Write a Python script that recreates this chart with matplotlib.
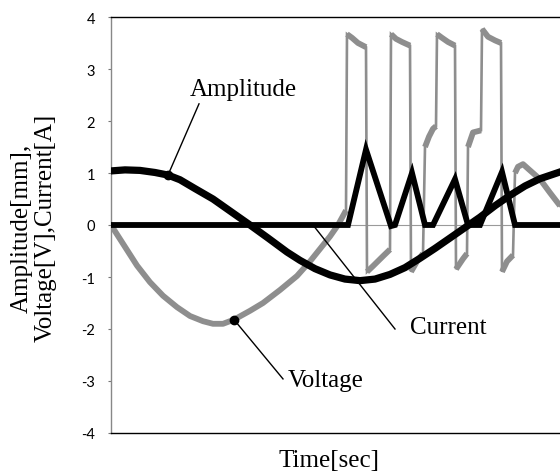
import numpy as np
import matplotlib
matplotlib.use("Agg")
import matplotlib.pyplot as plt

# ---- data (time in arbitrary units) ----
amp_t = [0, 14, 29, 44, 57, 69, 84, 102, 119, 139, 157, 176, 189, 204, 219,
         234, 249, 264, 279, 294, 309, 324, 339, 354, 369, 384, 399, 414, 429, 449]
amp_v = [1.04, 1.06, 1.05, 1.01, 0.96, 0.87, 0.70, 0.50, 0.27, 0.00, -0.25, -0.52,
         -0.68, -0.84, -0.96, -1.04, -1.07, -1.04, -0.95, -0.82, -0.64, -0.45,
         -0.25, -0.05, 0.15, 0.37, 0.57, 0.75, 0.89, 1.02]

volt_t = [0, 14, 26, 39, 52, 66, 79, 92, 102, 112, 123, 139, 152, 169, 186, 199,
          209, 219, 227, 235,
          236, 241, 247, 255,
          256, 262, 272, 279,
          280, 285, 291, 299,
          300, 306, 312,
          314, 318, 322, 325,
          326, 331, 337, 344,
          345, 352, 356,
          357, 362, 370,
          371, 377, 384, 390,
          391, 396, 402,
          404, 407, 412, 419, 429, 439, 449]
volt_v = [0.0, -0.42, -0.78, -1.10, -1.36, -1.58, -1.75, -1.85, -1.90, -1.90, -1.82,
          -1.65, -1.50, -1.25, -0.98, -0.70, -0.46, -0.22, 0.0, 0.28,
          3.67, 3.60, 3.50, 3.42,
          -0.90, -0.79, -0.60, -0.47,
          3.67, 3.58, 3.52, 3.45,
          -0.90, -0.70, -0.55,
          1.50, 1.70, 1.85, 1.90,
          3.67, 3.60, 3.52, 3.45,
          -0.85, -0.65, -0.55,
          1.50, 1.78, 1.82,
          3.77, 3.62, 3.55, 3.50,
          -0.90, -0.70, -0.58,
          1.00, 1.12, 1.17, 1.05, 0.88, 0.62, 0.37]

cur_t = [0, 237, 255, 280, 284, 301, 314, 322, 344, 357, 369, 391, 404, 449]
cur_v = [0.0, 0.0, 1.45, -0.02, 0.0, 1.0, 0.0, 0.0, 0.88, 0.0, 0.0, 1.02, 0.0, 0.0]

yticks = [-4, -3, -2, -1, 0, 1, 2, 3, 4]

serif = ["Liberation Serif", "DejaVu Serif"]

fig = plt.figure(figsize=(5.6, 4.77), dpi=100)
ax = fig.add_axes([111 / 560, 43 / 477, 449 / 560, 416 / 477])

vt = np.array(volt_t, float)
vv = np.array(volt_v, float)
gray = "#8e8e8e"
# thin full trace (fast edges)
ax.plot(vt, vv, color=gray, lw=1.9, zorder=2, solid_joinstyle="miter")
# thicker continuous segments
jumps = np.where(np.abs(np.diff(vv)) > 0.9)[0]
starts = np.r_[0, jumps + 1]
ends = np.r_[jumps + 1, len(vv)]
for s, e in zip(starts, ends):
    ax.plot(vt[s:e], vv[s:e], color=gray, lw=4.2, zorder=2, solid_capstyle="butt")

ax.plot(amp_t, amp_v, color="black", lw=5.2, zorder=3)
ax.plot(cur_t, cur_v, color="black", lw=4.2, zorder=4, solid_joinstyle="miter")

ax.axhline(0, color="#9a9a9a", lw=0.8, zorder=1)

ax.set_xlim(0, 449)
ax.set_ylim(-4, 4)
ax.set_xticks([])
ax.set_yticks(yticks)
ax.set_yticklabels([str(v) for v in yticks], family=["Lato", "DejaVu Sans"], fontsize=10.5)
ax.tick_params(axis="y", length=2.5, width=0.8, color="#777777", pad=9)

ax.spines["right"].set_visible(False)
ax.spines["left"].set_color("#888888")
ax.spines["left"].set_linewidth(1.0)
ax.spines["top"].set_color("black")
ax.spines["top"].set_linewidth(1.0)
ax.spines["bottom"].set_color("black")
ax.spines["bottom"].set_linewidth(1.0)

# annotations
fs = 18
a_x = 57
a_y = float(np.interp(a_x, amp_t, amp_v))
ax.plot([a_x, 88], [a_y, 2.33], color="black", lw=1.0, zorder=5)
ax.plot([a_x], [a_y], "o", color="black", ms=6, zorder=6)
ax.text(79, 2.62, "Amplitude", family=serif, fontsize=fs, ha="left", va="center")

v_x = 123
v_y = float(np.interp(v_x, vt, vv))
ax.plot([v_x, 172], [v_y, -2.96], color="black", lw=1.0, zorder=5)
ax.plot([v_x], [v_y], "o", color="black", ms=6, zorder=6)
ax.text(177, -2.98, "Voltage", family=serif, fontsize=fs, ha="left", va="center")

c_x = 202
c_y = float(np.interp(c_x, cur_t, cur_v))
ax.plot([c_x, 284], [c_y, -2.0], color="black", lw=1.0, zorder=5)
ax.text(299, -1.96, "Current", family=serif, fontsize=fs, ha="left", va="center")

fig.text(22 / 560, 1 - 228 / 477, "Amplitude[mm],", family=serif, fontsize=fs,
         rotation=90, ha="center", va="center")
fig.text(46 / 560, 1 - 228 / 477, "Voltage[V],Current[A]", family=serif, fontsize=fs,
         rotation=90, ha="center", va="center")
fig.text(329 / 560, 1 - 461 / 477, "Time[sec]", family=serif, fontsize=fs,
         ha="center", va="center")

fig.savefig("out.png", dpi=100)
